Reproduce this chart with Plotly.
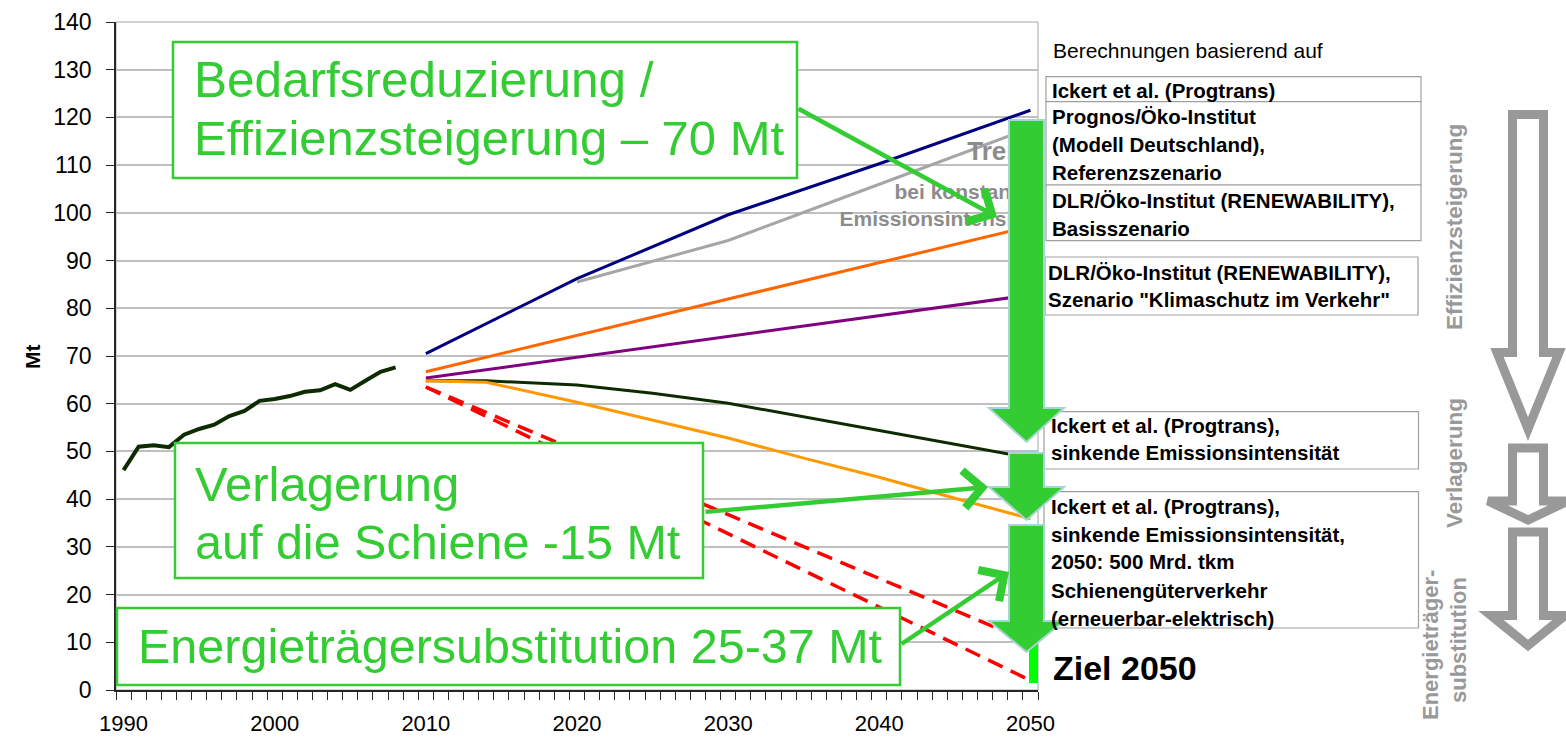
import plotly.graph_objects as go

# ---------------- data ----------------
years_hist = list(range(1990, 2009))
hist_mt = [46.1, 51.0, 51.3, 50.9, 53.5, 54.7, 55.6, 57.4, 58.5, 60.6,
           61.0, 61.6, 62.5, 62.8, 64.1, 62.9, 64.8, 66.7, 67.6]

years_ickert = [2010, 2020, 2030, 2040, 2050]
ickert = [70.5, 86.2, 99.6, 110.3, 121.5]

years_prognos = [2020, 2030, 2040, 2050]
prognos = [85.5, 94.2, 106.0, 117.8]

years_dlr = [2010, 2030, 2050]
dlr_basis = [66.7, 81.9, 97.2]
dlr_klima = [65.4, 74.1, 82.8]

years_sink = [2010, 2014, 2020, 2025, 2030, 2035, 2040, 2045, 2050]
ickert_sink = [64.8, 64.8, 63.9, 62.2, 60.1, 57.3, 54.4, 51.5, 48.6]
ickert_sink_rail = [64.8, 64.5, 60.3, 56.6, 52.8, 48.6, 44.6, 40.2, 35.9]

years_target = [2010, 2050]
target_high = [63.5, 10.0]
target_low = [63.5, 2.0]

ziel_year = [2050]
ziel_low = [1.5]
ziel_high = [10.0]

tick_years = [1990, 2000, 2010, 2020, 2030, 2040, 2050]

# ---------------- helpers (pixel -> paper) ----------------
X0, X1 = 116, 1038
Y0, Y1 = 690, 22


def xp(p):
    return (p - X0) / (X1 - X0)


def yp(p):
    return (Y0 - p) / (Y0 - Y1)


FONT = "Liberation Sans, Arial, sans-serif"
GREEN = "#33cc33"
GRAY_TXT = "#999999"

fig = go.Figure()

fig.add_trace(go.Bar(x=ziel_year, y=[h - l for h, l in zip(ziel_high, ziel_low)],
                     base=ziel_low, width=0.6, offset=-0.1,
                     marker=dict(color="#00ff00", line=dict(width=0)),
                     name="Ziel 2050"))

fig.add_trace(go.Scatter(x=years_hist, y=hist_mt, mode="lines",
                         line=dict(color="#0d2b00", width=4), name="Historie"))
fig.add_trace(go.Scatter(x=years_ickert, y=ickert, mode="lines",
                         line=dict(color="#000080", width=3), name="Ickert et al. (Progtrans)"))
fig.add_trace(go.Scatter(x=years_prognos, y=prognos, mode="lines",
                         line=dict(color="#a6a6a6", width=3), name="Prognos/Öko-Institut"))
fig.add_trace(go.Scatter(x=years_dlr, y=dlr_basis, mode="lines",
                         line=dict(color="#ff6600", width=3), name="DLR Basisszenario"))
fig.add_trace(go.Scatter(x=years_dlr, y=dlr_klima, mode="lines",
                         line=dict(color="#800080", width=3), name="DLR Klimaschutz"))
fig.add_trace(go.Scatter(x=years_sink, y=ickert_sink, mode="lines",
                         line=dict(color="#0d2b00", width=3), name="Ickert sinkend"))
fig.add_trace(go.Scatter(x=years_sink, y=ickert_sink_rail, mode="lines",
                         line=dict(color="#ff9900", width=3), name="Ickert Schiene"))
fig.add_trace(go.Scatter(x=years_target, y=target_high, mode="lines",
                         line=dict(color="#ff0000", width=3.5, dash="16px,9px"), name="Ziel A"))
fig.add_trace(go.Scatter(x=years_target, y=target_low, mode="lines",
                         line=dict(color="#ff0000", width=3.5, dash="16px,9px"), name="Ziel B"))

# Trend text (partly hidden behind the green arrow)
fig.add_trace(go.Scatter(
    x=[2050.5, 2050.5, 2050.5], y=[112.5, 104.0, 98.4], mode="text",
    text=["<b>Trend</b>", "<b>bei konstanter</b>", "<b>Emissionsintensität</b>"],
    textposition="middle left",
    textfont=dict(family=FONT, size=[26, 21, 21], color="#8c8c8c"),
    cliponaxis=False, hoverinfo="skip"))

shapes = []
# plot area border
shapes.append(dict(type="rect", xref="paper", yref="paper", x0=0, x1=1, y0=0, y1=1,
                   line=dict(color="#a6a6a6", width=1), layer="below"))


def rect(x0, y0, x1, y1, color, width, fill="white"):
    return dict(type="rect", xref="paper", yref="paper",
                x0=xp(x0), x1=xp(x1), y0=yp(y1), y1=yp(y0),
                line=dict(color=color, width=width), fillcolor=fill, layer="above")


# green text boxes
shapes.append(rect(173, 42, 797, 178, GREEN, 2.5))
shapes.append(rect(175, 443, 703, 578, GREEN, 2.5))
shapes.append(rect(117, 608, 900, 685, GREEN, 2.5))

# right-hand legend boxes
for (a, b, c, d) in [(1046, 76.7, 1421, 101.7), (1046, 101.7, 1421, 185),
                     (1046, 185, 1421, 240.7), (1045, 257, 1418, 315),
                     (1044, 411.7, 1418.5, 469), (1044, 491.7, 1418.5, 628)]:
    shapes.append(rect(a, b, c, d, "#a0a0a0", 1.2))


def arrow_path(c, s, h, top, base, tip):
    pts = [(c - s, top), (c + s, top), (c + s, base), (c + h, base), (c, tip),
           (c - h, base), (c - s, base)]
    d = "M " + " L ".join(f"{xp(x):.5f},{yp(y):.5f}" for x, y in pts) + " Z"
    return d


# green block arrows
for (top, base, tip) in [(120, 408, 442), (453, 487, 520), (525, 621, 652)]:
    shapes.append(dict(type="path", xref="paper", yref="paper",
                       path=arrow_path(1026.5, 17.5, 37.5, top, base, tip),
                       fillcolor="#33cc33", line=dict(color="#a9d4d4", width=2),
                       layer="above"))

# grey outline arrows
for (top, base, h, tip) in [(114.5, 352.5, 31, 429), (448, 501, 40, 520), (532, 615.5, 37, 645.5)]:
    shapes.append(dict(type="path", xref="paper", yref="paper",
                       path=arrow_path(1528, 15.5, h, top, base, tip),
                       fillcolor="rgba(0,0,0,0)", line=dict(color="#999999", width=9),
                       layer="above"))

ann = []


def txt(x, y, s, size, color="black", xanchor="left", angle=0, bold=False):
    t = f"<b>{s}</b>" if bold else s
    ann.append(dict(xref="paper", yref="paper", x=xp(x), y=yp(y), text=t,
                    showarrow=False, xanchor=xanchor, yanchor="middle",
                    textangle=angle, font=dict(family=FONT, size=size, color=color)))


# green box texts
txt(192, 80, "Bedarfsreduzierung /", 49.5, GREEN)
txt(192, 138.3, "Effizienzsteigerung – 70 Mt", 49, GREEN)
txt(193, 484, "Verlagerung", 49, GREEN)
txt(193, 541.7, "auf die Schiene -15 Mt", 48.5, GREEN)
txt(136, 646, "Energieträgersubstitution 25-37 Mt", 48.5, GREEN)

# right legend texts
txt(1051, 50, "Berechnungen basierend auf", 21)
for y, s in [(90, "Ickert et al. (Progtrans)"),
             (116, "Prognos/Öko-Institut"), (144.3, "(Modell Deutschland),"),
             (172.7, "Referenzszenario"),
             (200.7, "DLR/Öko-Institut (RENEWABILITY),"), (228.3, "Basisszenario")]:
    txt(1050, y, s, 20.5, bold=True)
for y, s in [(272.3, "DLR/Öko-Institut (RENEWABILITY),"),
             (299.3, 'Szenario "Klimaschutz im Verkehr"')]:
    txt(1046, y, s, 20.5, bold=True)
for y, s in [(425, "Ickert et al. (Progtrans),"), (452.7, "sinkende Emissionsintensität"),
             (506.7, "Ickert et al. (Progtrans),"), (534.3, "sinkende Emissionsintensität,"),
             (561.7, "2050: 500 Mrd. tkm"), (590, "Schienengüterverkehr"),
             (618.3, "(erneuerbar-elektrisch)")]:
    txt(1049, y, s, 20.5, bold=True)
txt(1051, 668, "Ziel 2050", 34, bold=True)

# rotated grey labels
txt(1455, 227, "Effizienzsteigerung", 22.5, GRAY_TXT, "center", -90, True)
txt(1454, 463, "Verlagerung", 22.5, GRAY_TXT, "center", -90, True)
txt(1430, 645, "Energieträger-", 22, GRAY_TXT, "center", -90, True)
txt(1458, 640, "substitution", 22, GRAY_TXT, "center", -90, True)

# y axis title
txt(32, 357, "Mt", 21, "black", "center", -90, True)

# green pointer arrows
for (tx, ty, hx, hy) in [(797, 108, 997, 217), (704, 512, 988, 487), (900, 645, 1009, 572)]:
    ann.append(dict(xref="paper", yref="paper", x=xp(hx), y=yp(hy), text="",
                    showarrow=True, ax=tx - hx, ay=ty - hy, axref="pixel", ayref="pixel",
                    arrowhead=4, arrowsize=1.6, arrowwidth=4.5, arrowcolor=GREEN,
                    standoff=0))

fig.update_layout(
    width=1566, height=740,
    margin=dict(l=X0, r=1566 - X1, t=Y1, b=740 - Y0, autoexpand=False),
    paper_bgcolor="white", plot_bgcolor="white", showlegend=False,
    font=dict(family=FONT, color="black"),
    shapes=shapes, annotations=ann, bargap=0,
    xaxis=dict(range=[1989.5, 2050.5], tickmode="array", tickvals=tick_years,
               ticktext=[str(v) for v in tick_years], ticks="", showgrid=False,
               showline=True, linecolor="#262626", linewidth=1.5, zeroline=False,
               automargin=False,
               tickfont=dict(size=22, family=FONT), ticklabelstandoff=13,
               minor=dict(tickmode="linear", tick0=1989.5, dtick=1, ticks="outside",
                          ticklen=8, tickcolor="#262626", tickwidth=1.2, showgrid=False)),
    yaxis=dict(range=[0, 140], tickmode="linear", tick0=0, dtick=10, ticks="outside",
               ticklen=8, tickcolor="#262626", showgrid=True, gridcolor="#bfbfbf",
               gridwidth=1.5, showline=True, linecolor="#262626", linewidth=1.5,
               automargin=False,
               zeroline=False, tickfont=dict(size=23, family=FONT), ticklabelstandoff=10),
)

fig.write_html("out.html")
